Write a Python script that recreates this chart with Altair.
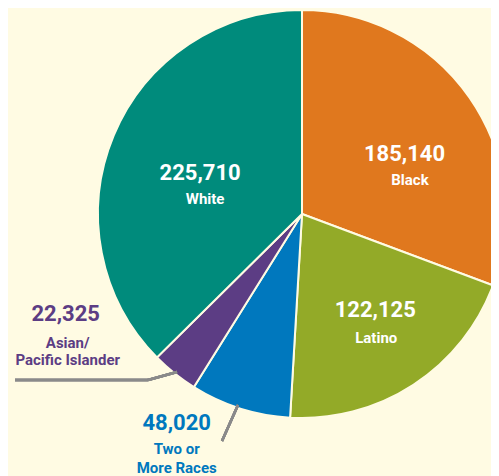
import altair as alt
import pandas as pd

groups = ["Black", "Latino", "Two or More Races", "Asian/Pacific Islander", "White"]
values = [185140, 122125, 48020, 22325, 225710]
num_labels = ["185,140", "122,125", "48,020", "22,325", "225,710"]
name_labels = ["Black", "Latino", "Two or|More Races", "Asian/|Pacific Islander", "White"]
colors = ["#e0781e", "#93aa28", "#0078be", "#5c3d84", "#008b7c"]

BG = "#fffbe3"
FONT = "Roboto"
CX, CY, R = 294, 206, 204

df = pd.DataFrame({
    "group": groups,
    "value": values,
    "num": num_labels,
    "name": name_labels,
    "order": list(range(len(groups))),
})

pie = alt.Chart(df).mark_arc(radius=R, stroke=BG, strokeWidth=2).encode(
    theta=alt.Theta("value:Q", stack=True),
    order=alt.Order("order:Q"),
    color=alt.Color("group:N", scale=alt.Scale(domain=groups, range=colors), legend=None),
    x=alt.value(CX),
    y=alt.value(CY),
)

base = (
    alt.Chart(df)
    .transform_joinaggregate(total="sum(value)")
    .transform_window(cum="sum(value)", sort=[alt.SortField("order")], frame=[None, 0])
    .transform_calculate(
        mid="(datum.cum - datum.value / 2) / datum.total * 2 * PI",
        lines="split(datum.name, '|')",
    )
)

# group, radius, (num dx, dy), (name dx, dy), line height, text color
label_specs = [
    ("White", 105, (-5, -1), (0, 25), 17, "white"),
    ("Black", 115, (8, 6), (13.5, 31.5), 17, "white"),
    ("Latino", 125, (5, -9), (6, 19), 17, "white"),
    ("Asian/Pacific Islander", 215, (-102, -68), (-100, -38.5), 17, "#5c3d84"),
    ("Two or More Races", 225, (-57, -5), (-57, 21), 19, "#0078be"),
]

layers = [pie]
for g, rad, (ndx, ndy), (tdx, tdy), lh, col in label_specs:
    sub = base.transform_filter(alt.datum.group == g)
    layers.append(
        sub.mark_text(radius=rad, dx=ndx, dy=ndy, font=FONT, fontSize=22,
                      fontWeight="bold", color=col, align="center", baseline="middle").encode(
            theta=alt.Theta("mid:Q", scale=None, stack=False),
            text=alt.Text("num:N"),
            x=alt.value(CX), y=alt.value(CY),
        )
    )
    layers.append(
        sub.mark_text(radius=rad, dx=tdx, dy=tdy, font=FONT, fontSize=15, lineHeight=lh,
                      fontWeight="bold", color=col, align="center", baseline="middle").encode(
            theta=alt.Theta("mid:Q", scale=None, stack=False),
            text=alt.Text("lines:N"),
            x=alt.value(CX), y=alt.value(CY),
        )
    )

# leader lines
lead1 = alt.Chart(df).mark_rule(color="#8a8a8a", strokeWidth=2.5).encode(
    x=alt.value(7), x2=alt.value(140), y=alt.value(372), y2=alt.value(372))
lead2 = alt.Chart(df).mark_rule(color="#8a8a8a", strokeWidth=2.5).encode(
    x=alt.value(140), x2=alt.value(169), y=alt.value(372), y2=alt.value(364))
lead3 = alt.Chart(df).mark_rule(color="#8a8a8a", strokeWidth=2.5).encode(
    x=alt.value(230), x2=alt.value(214), y=alt.value(397), y2=alt.value(433))
layers += [lead1, lead2, lead3]

chart = alt.layer(*layers).properties(
    width=483, height=468,
    autosize=alt.AutoSizeParams(type="none"),
    padding=0,
    background=BG,
).configure_view(stroke=None)

chart.save("out.html", embed_options={"renderer": "svg", "actions": False})
